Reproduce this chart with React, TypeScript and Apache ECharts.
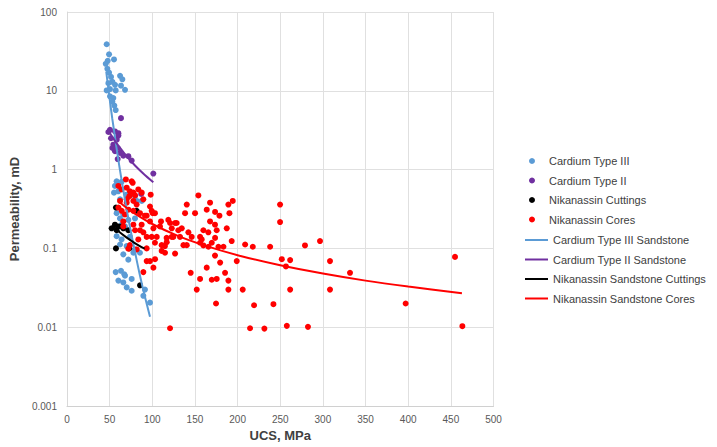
import React, { useEffect, useRef } from "react";
import * as echarts from "echarts";

// ---- Data (UCS in MPa, permeability in mD) ----
const cardiumIII: number[][] = [
  [46.5, 39], [49.3, 29], [47.7, 24], [55.1, 25], [45.4, 22], [47.3, 19], [49.3, 17], [51.6, 15],
  [62.2, 15.5], [64.9, 14], [53.2, 13], [48.5, 12.5], [56.3, 11.9], [63.3, 11.6], [68, 10.3],
  [46.5, 10.1], [50.4, 10.5], [57.1, 10.1], [50.4, 8.5], [54.3, 8.1], [53.2, 7.3], [55.5, 6.5],
  [57.1, 5.7],
  [58.2, 0.71], [64, 0.7], [56.2, 0.62], [60.1, 0.53], [55.1, 0.51], [69.9, 0.48], [79.7, 0.46],
  [62.2, 0.42], [81.7, 0.4], [87.6, 0.4], [58.2, 0.28], [66, 0.27], [62.1, 0.24], [71.9, 0.23],
  [79.7, 0.24], [68, 0.19], [64.1, 0.2], [58.2, 0.143], [64, 0.13], [73.8, 0.14], [69.9, 0.107],
  [79.7, 0.097], [85.5, 0.088], [77.8, 0.088], [62.2, 0.112], [66, 0.084], [71.9, 0.072],
  [57.1, 0.05], [63.3, 0.052], [67.2, 0.047], [68, 0.045], [60.2, 0.039], [66, 0.037],
  [75.8, 0.041], [70, 0.032], [75.8, 0.029], [91.4, 0.03], [89.5, 0.025], [97.3, 0.0205],
];

const cardiumII: number[][] = [
  [63.3, 4.5], [50.4, 3.2], [48.5, 3.0], [56.3, 3.05], [60.2, 2.9], [60.2, 2.7], [51.6, 2.5],
  [58.3, 2.4], [54.3, 2.07], [53.2, 1.88], [59.4, 1.88], [62.2, 1.63], [56.3, 1.71], [66, 1.5],
  [71.9, 1.48], [75.8, 1.3], [59.4, 1.36], [101.2, 0.89], [87, 0.49],
];

const nikanassinCuttings: number[][] = [
  [57.4, 0.33], [81.6, 0.3], [52.3, 0.18], [56.2, 0.2], [60, 0.19], [64, 0.19], [58.2, 0.17],
  [66, 0.18], [71.9, 0.17], [57.4, 0.1], [73, 0.1], [85.6, 0.034],
];

const nikanassinCores: number[][] = [
  [69, 0.75], [77, 0.68], [75.8, 0.71], [64, 0.56], [60.2, 0.62], [70, 0.59], [73.8, 0.53],
  [83.6, 0.56], [77.8, 0.51], [87.6, 0.51], [98.1, 0.48], [73.1, 0.46], [79.8, 0.47], [62.2, 0.4],
  [70, 0.42], [77.8, 0.4], [89.5, 0.42], [81.6, 0.36], [70, 0.38], [60.2, 0.33], [97.3, 0.34],
  [99.3, 0.3], [64.1, 0.3], [72, 0.31], [77.8, 0.3], [85.6, 0.28], [100.5, 0.28], [103.1, 0.28],
  [68, 0.27], [91.4, 0.26], [93.4, 0.26], [66, 0.22], [97.3, 0.22], [77.8, 0.2], [87.5, 0.2],
  [66, 0.19], [109, 0.19], [110.2, 0.22], [118.8, 0.23], [120.8, 0.21], [128.6, 0.21],
  [122.8, 0.18], [134.5, 0.18], [126.6, 0.21], [130.5, 0.17], [89.5, 0.16], [85.6, 0.17],
  [79.8, 0.17], [101.3, 0.18], [83.6, 0.13], [73.8, 0.11], [93.4, 0.1], [103.1, 0.118],
  [114.8, 0.107], [116.8, 0.136], [124.6, 0.14], [105.2, 0.14], [99.3, 0.14], [93.4, 0.14],
  [116.9, 0.12], [111, 0.11], [111, 0.093], [126.7, 0.086], [114.9, 0.088], [103.2, 0.073],
  [97.3, 0.069], [93.4, 0.069], [101.3, 0.057], [89.5, 0.05], [81.7, 0.097], [71.9, 0.099],
  [140.4, 0.36], [154, 0.47], [138.4, 0.28], [150.1, 0.28], [163.8, 0.31], [167.7, 0.38],
  [173.6, 0.29], [178.7, 0.26], [189.2, 0.36], [194.3, 0.4], [190.4, 0.28], [187.3, 0.18],
  [167.7, 0.22], [173.5, 0.2], [159.9, 0.17], [165.7, 0.16], [175.5, 0.17], [156, 0.14],
  [157.9, 0.13], [142.3, 0.16], [146.2, 0.14], [132.5, 0.14], [136.5, 0.11], [122.8, 0.14],
  [140.4, 0.11], [156, 0.118], [159.9, 0.109], [165.8, 0.105], [169.7, 0.118], [173.6, 0.136],
  [177.5, 0.105], [183.4, 0.105], [193.1, 0.124], [199, 0.069], [208.8, 0.112], [217.8, 0.105],
  [238.1, 0.105], [249.8, 0.36], [249.8, 0.216], [251.8, 0.073], [261.6, 0.071], [256.7, 0.059],
  [261.6, 0.03], [257.7, 0.0104], [242, 0.0196], [219.3, 0.019], [214.6, 0.0097], [231.4, 0.0096],
  [206, 0.03], [189.2, 0.03], [189.2, 0.039], [185.3, 0.049], [179.5, 0.066], [173.5, 0.081],
  [175.5, 0.041], [169.7, 0.04], [163.8, 0.057], [156, 0.041], [152.1, 0.03], [145, 0.049],
  [174.7, 0.02], [120.8, 0.0097], [279, 0.109], [296.6, 0.124], [308.3, 0.069], [331.8, 0.049],
  [308.3, 0.03], [397, 0.02], [454.9, 0.078], [463.5, 0.0103], [282.5, 0.0101],
];

// Trendlines as drawn in the reference
const cardiumIIITrend: number[][] = [
  [46, 17.5], [48, 11.7], [50, 7.9], [53, 4.5], [55, 3.2], [58, 1.9], [62, 1.0], [66, 0.55],
  [70, 0.31], [75, 0.16], [80, 0.087], [85, 0.048], [90, 0.028], [97.3, 0.0136],
];
const cardiumIITrend: number[][] = [
  [50.4, 2.9], [55, 2.42], [60, 2.03], [70, 1.47], [80, 1.12], [90, 0.88], [101.2, 0.69],
];
const cuttingsTrend: number[][] = [
  [53, 0.195], [60, 0.166], [70, 0.137], [80, 0.116], [91, 0.099],
];
const coresTrend: number[][] = [
  [60, 0.4], [70, 0.327], [80, 0.274], [100, 0.204], [130, 0.144], [160, 0.11], [200, 0.082],
  [250, 0.061], [300, 0.048], [350, 0.039], [400, 0.0328], [463, 0.027],
];

const scatterNames = ["Cardium Type III", "Cardium Type II", "Nikanassin Cuttings", "Nikanassin Cores"];
const lineNames = [
  "Cardium Type III Sandstone",
  "Cardium Type II Sandstone",
  "Nikanassin Sandstone Cuttings",
  "Nikanassin Sandstone Cores",
];
const colors = ["#5B9BD5", "#7030A0", "#000000", "#FF0000"];
const yTickLabels = ["0.001", "0.01", "0.1", "1", "10", "100"];
const xTitle = "UCS, MPa";
const yTitle = "Permeability, mD";

const FONT = "'Liberation Sans', Arial, sans-serif";

export default function App() {
  const ref = useRef<HTMLDivElement>(null);

  useEffect(() => {
    if (!ref.current) return;
    const chart = echarts.init(ref.current, undefined, { renderer: "svg" });
    const scatterData = [cardiumIII, cardiumII, nikanassinCuttings, nikanassinCores];
    const trendData = [cardiumIIITrend, cardiumIITrend, cuttingsTrend, coresTrend];

    const series: any[] = [];
    scatterNames.forEach((name, i) => {
      series.push({
        name,
        type: "scatter",
        data: scatterData[i],
        symbol: "circle",
        symbolSize: 6,
        itemStyle: { color: colors[i], opacity: 1 },
        z: 2 + i,
      });
    });
    lineNames.forEach((name, i) => {
      series.push({
        name,
        type: "line",
        data: trendData[i],
        showSymbol: false,
        symbol: "none",
        smooth: 0.3,
        lineStyle: { color: colors[i], width: 2 },
        itemStyle: { color: colors[i] },
        z: 10 + i,
      });
    });

    chart.setOption({
      animation: false,
      backgroundColor: "#ffffff",
      textStyle: { fontFamily: FONT },
      grid: { left: 67, right: 223.5, top: 12, bottom: 40, containLabel: false },
      xAxis: {
        type: "value",
        min: 0,
        max: 500,
        interval: 50,
        name: xTitle,
        nameLocation: "middle",
        nameGap: 23,
        nameTextStyle: { fontSize: 13, fontWeight: "bold", color: "#404040", fontFamily: FONT },
        axisLine: { show: true, lineStyle: { color: "#d0d0d0", width: 1 } },
        axisTick: { show: false },
        axisLabel: { fontSize: 10, color: "#595959", margin: 8, fontFamily: FONT },
        splitLine: { show: true, lineStyle: { color: "#e0e0e0", width: 1 } },
      },
      yAxis: {
        type: "log",
        logBase: 10,
        min: 0.001,
        max: 100,
        interval: 1,
        name: yTitle,
        nameLocation: "middle",
        nameGap: 39,
        nameRotate: 90,
        nameTextStyle: { fontSize: 13, fontWeight: "bold", color: "#404040", fontFamily: FONT },
        axisLine: { show: true, lineStyle: { color: "#d9d9d9", width: 1 } },
        axisTick: { show: false },
        axisLabel: {
          fontSize: 10,
          color: "#595959",
          margin: 10,
          fontFamily: FONT,
          formatter: (v: number) => {
            const found = yTickLabels.find((t) => Math.abs(Math.log10(Number(t)) - Math.log10(v)) < 1e-6);
            return found ?? "";
          },
        },
        splitLine: { show: true, lineStyle: { color: "#e0e0e0", width: 1 } },
      },
      legend: [
        {
          data: scatterNames,
          orient: "vertical",
          left: 524,
          top: 149,
          icon: "circle",
          itemWidth: 24,
          itemHeight: 6,
          itemGap: 5.5,
          textStyle: { fontSize: 11, color: "#404040", fontFamily: FONT, lineHeight: 14 },
          selectedMode: false,
        },
        {
          data: lineNames,
          orient: "vertical",
          left: 520,
          top: 228,
          icon: "rect",
          itemWidth: 23,
          itemHeight: 2,
          itemGap: 5.5,
          textStyle: { fontSize: 11, color: "#404040", fontFamily: FONT, lineHeight: 14 },
          selectedMode: false,
        },
      ],
      series,
    });
    return () => chart.dispose();
  }, []);

  return (
    <div
      ref={ref}
      style={{ position: "fixed", left: 0, top: 0, width: 717, height: 447, background: "#ffffff" }}
    />
  );
}
